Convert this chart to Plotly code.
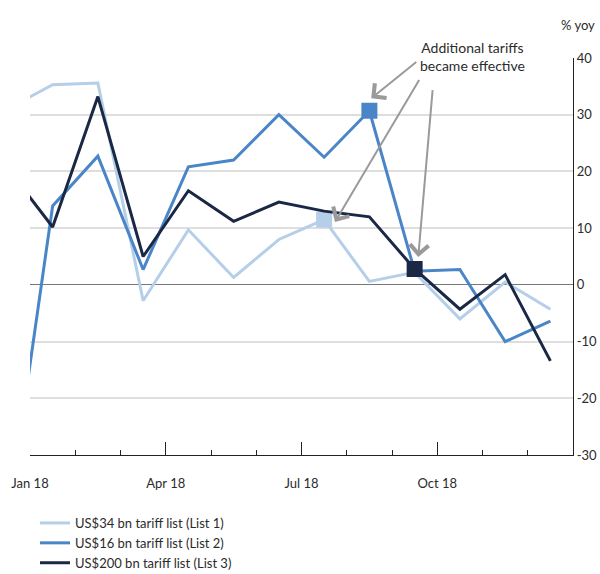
import plotly.graph_objects as go

# ---- data ----
months = ["Dec 17", "Jan 18", "Feb 18", "Mar 18", "Apr 18", "May 18", "Jun 18",
          "Jul 18", "Aug 18", "Sep 18", "Oct 18", "Nov 18", "Dec 18"]
list1 = [31.0, 35.3, 35.6, -2.8, 9.7, 1.3, 8.0, 11.5, 0.6, 2.2, -6.0, 0.5, -4.3]
list2 = [-42.0, 13.9, 22.7, 2.7, 20.8, 22.0, 30.0, 22.5, 30.7, 2.4, 2.7, -10.0, -6.4]
list3 = [20.6, 10.2, 33.2, 5.0, 16.6, 11.2, 14.6, 13.0, 12.0, 2.8, -4.3, 1.8, -13.4]
series_names = ["US$34 bn tariff list (List 1)",
                "US$16 bn tariff list (List 2)",
                "US$200 bn tariff list (List 3)"]
effective_month = ["Jul 18", "Aug 18", "Sep 18"]
x_tick_labels = ["Jan 18", "Apr 18", "Jul 18", "Oct 18"]
y_ticks = [-30, -20, -10, 0, 10, 20, 30, 40]
y_tick_labels = ["-30", "-20", "-10", "0", "10", "20", "30", "40"]
annotation_text = "Additional tariffs<br>became effective"
unit_label = "% yoy"

colors = ["#b5cfe9", "#4a86c7", "#1b2845"]
FONT = "Lato"
TXT = "#2b2b2b"

# month position: mid-month, with Jan 18 starting at 0
xpos = [i - 0.5 for i in range(len(months))]
xmap = dict(zip(months, xpos))

fig = go.Figure()
for name, vals, col, em in zip(series_names, [list1, list2, list3], colors, effective_month):
    fig.add_trace(go.Scatter(x=xpos, y=vals, mode="lines", name=name,
                             line=dict(color=col, width=3), hoverinfo="skip"))
    idx = months.index(em)
    fig.add_trace(go.Scatter(x=[xmap[em]], y=[vals[idx]], mode="markers",
                             marker=dict(symbol="square", size=16, color=col),
                             showlegend=False, hoverinfo="skip"))

# quarter ticks for x labels (start of month)
tick_pos = [xmap[m] - 0.5 for m in x_tick_labels]
minor_pos = [i for i in range(1, 12)]

fig.update_layout(
    width=600, height=574,
    margin=dict(l=30, r=27, t=57.5, b=119),
    plot_bgcolor="white", paper_bgcolor="white",
    font=dict(family=FONT, size=13, color=TXT),
    showlegend=True,
    legend=dict(x=5 / 543, y=(574 - 508) / 574, xref="paper", yref="container",
                xanchor="left", yanchor="top",
                font=dict(family=FONT, size=13, color=TXT),
                bgcolor="rgba(0,0,0,0)", traceorder="normal"),
    xaxis=dict(range=[0, 12], tickmode="array", tickvals=tick_pos, ticktext=x_tick_labels,
               ticks="", showgrid=False, zeroline=False, showline=True, automargin=False,
               linecolor="#222", linewidth=1.3, ticklabelstandoff=16,
               tickfont=dict(family=FONT, size=13, color=TXT),
               minor=dict(tickmode="array", tickvals=minor_pos, ticks="inside",
                          ticklen=5, tickcolor="#222", tickwidth=1, showgrid=False)),
    xaxis2=dict(range=[0, 12], overlaying="x", anchor="y", tickmode="array",
                tickvals=tick_pos[1:], ticks="inside", ticklen=13, tickcolor="#222",
                tickwidth=1.3, showticklabels=False, showgrid=False, zeroline=False,
                showline=False, automargin=False),
    yaxis=dict(range=[-30, 40], side="right", tickmode="array", tickvals=y_ticks,
               ticktext=y_tick_labels, ticks="", showgrid=False, automargin=False,
               zeroline=True, zerolinecolor="#777", zerolinewidth=1,
               showline=True, linecolor="#222", linewidth=1.3,
               tickfont=dict(family=FONT, size=13, color=TXT),
               minor=dict(tickmode="array", tickvals=[v for v in y_ticks if v not in (0, -30, 40)],
                          showgrid=True, gridcolor="#dedede", gridwidth=1.5, ticks="")),
)

# invisible trace so xaxis2 is drawn
fig.add_trace(go.Scatter(x=[None], y=[None], xaxis="x2", yaxis="y", showlegend=False,
                         hoverinfo="skip"))

fig.add_annotation(text=annotation_text, xref="paper", yref="paper", x=0.814, y=1.005,
                   xanchor="center", yanchor="middle", showarrow=False,
                   font=dict(family=FONT, size=14, color=TXT))
fig.add_annotation(text=unit_label, xref="paper", yref="paper", x=1.0436, y=1.084,
                   xanchor="right", yanchor="middle", showarrow=False,
                   font=dict(family=FONT, size=13, color=TXT))

# arrows: (tail, head) in axis coords
arrows = [((8.57, 39.5), (7.54, 32.9)),
          ((8.62, 36.4), (6.74, 11.1)),
          ((8.90, 34.6), (8.58, 4.9))]
for (tx, ty), (hx, hy) in arrows:
    fig.add_annotation(x=hx, y=hy, ax=tx, ay=ty, xref="x", yref="y", axref="x", ayref="y",
                       text="", showarrow=True, arrowhead=4, arrowsize=1.8,
                       arrowwidth=2, arrowcolor="#9a9a9a", standoff=0)

fig.write_html("out.html")
